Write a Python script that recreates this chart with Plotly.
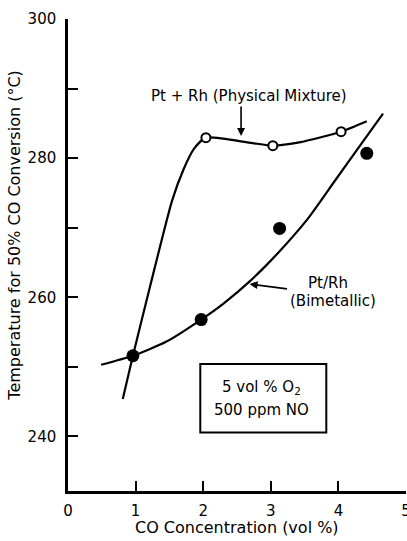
import plotly.graph_objects as go

# Measured points
mix_x = [2.04, 3.03, 4.04]
mix_y = [282.95, 281.8, 283.8]
bim_x = [0.96, 1.97, 3.13, 4.42]
bim_y = [251.6, 256.8, 269.9, 280.7]

# Hand-drawn curves
mix_curve_x = [0.81, 0.96, 1.22, 1.54, 1.71, 1.86, 2.04, 2.70, 3.03, 3.44, 4.04, 4.42]
mix_curve_y = [245.4, 251.6, 261.8, 273.9, 278.4, 281.3, 282.95, 282.2, 281.8, 282.3, 283.8, 285.3]
bim_curve_x = [0.49, 0.96, 1.45, 1.97, 2.30, 2.70, 3.09, 3.54, 3.93, 4.32, 4.66]
bim_curve_y = [250.3, 251.6, 253.6, 256.8, 259.1, 262.4, 266.2, 271.2, 276.5, 281.8, 286.4]

x_ticks = [0, 1, 2, 3, 4, 5]
x_labels = ["0", "1", "2", "3", "4", "5"]
y_ticks = [240, 250, 260, 270, 280, 290, 300]
y_labels = ["240", "", "260", "", "280", "", "300"]

FONT = "DejaVu Sans"

fig = go.Figure()
fig.add_trace(go.Scatter(x=mix_curve_x, y=mix_curve_y, mode="lines",
                         line=dict(color="black", width=2.2, shape="spline", smoothing=0.6),
                         hoverinfo="skip", showlegend=False))
fig.add_trace(go.Scatter(x=bim_curve_x, y=bim_curve_y, mode="lines",
                         line=dict(color="black", width=2.2, shape="spline", smoothing=0.6),
                         hoverinfo="skip", showlegend=False))
fig.add_trace(go.Scatter(x=mix_x, y=mix_y, mode="markers",
                         marker=dict(size=9, color="white", line=dict(color="black", width=2)),
                         showlegend=False))
fig.add_trace(go.Scatter(x=bim_x, y=bim_y, mode="markers",
                         marker=dict(size=13, color="black"),
                         showlegend=False))

fig.add_shape(type="rect", xref="x", yref="y", x0=1.957, x1=3.821, y0=240.57, y1=250.41,
              line=dict(color="black", width=2), fillcolor="rgba(0,0,0,0)")

ann_font = dict(family=FONT, size=15, color="black")
fig.add_annotation(x=2.682, y=288.94, text="Pt + Rh (Physical Mixture)", showarrow=False, font=ann_font)
fig.add_annotation(x=2.56, y=283.2, ax=0, ay=-31, text="", showarrow=True,
                   arrowhead=2, arrowsize=1, arrowwidth=1.6, arrowcolor="black", standoff=0)
fig.add_annotation(x=3.843, y=262.02, text="Pt/Rh", showarrow=False, font=ann_font)
fig.add_annotation(x=3.925, y=259.43, text="(Bimetallic)", showarrow=False, font=ann_font)
fig.add_annotation(x=2.686, y=261.9, ax=39, ay=5, text="", showarrow=True,
                   arrowhead=2, arrowsize=1, arrowwidth=1.6, arrowcolor="black", standoff=0)
fig.add_annotation(x=2.867, y=247.07, text="5 vol % O<sub>2</sub>", showarrow=False, font=ann_font)
fig.add_annotation(x=2.867, y=243.85, text="500 ppm NO", showarrow=False, font=ann_font)

# Axis titles
fig.add_annotation(xref="paper", yref="paper", x=0.5, y=0, yshift=-36, yanchor="middle",
                   text="CO Concentration (vol %)", showarrow=False,
                   font=dict(family=FONT, size=16, color="black"))
fig.add_annotation(xref="paper", yref="paper", x=0, y=0.541, xshift=-53, xanchor="center",
                   yanchor="middle", textangle=-90,
                   text="Temperature for 50% CO Conversion (°C)", showarrow=False,
                   font=dict(family=FONT, size=16, color="black"))

axis_common = dict(showgrid=False, zeroline=False, showline=True, linecolor="black",
                   linewidth=2.5, ticks="inside", ticklen=10, tickwidth=2, tickcolor="black",
                   tickfont=dict(family=FONT, size=15, color="black"), mirror=False,
                   ticklabeloverflow="allow", automargin=False)

fig.update_xaxes(range=[0, 5], tickmode="array", tickvals=x_ticks, ticktext=x_labels,
                 ticklabelstandoff=4, **axis_common)
fig.update_yaxes(range=[232.16, 300], tickmode="array", tickvals=y_ticks, ticktext=y_labels,
                 ticklabelstandoff=6, **axis_common)

fig.update_layout(width=407, height=541, margin=dict(l=68, r=1, t=19, b=50, autoexpand=False),
                  paper_bgcolor="white", plot_bgcolor="white",
                  font=dict(family=FONT, size=15, color="black"))

fig.write_html("out.html", config={"displayModeBar": False})
